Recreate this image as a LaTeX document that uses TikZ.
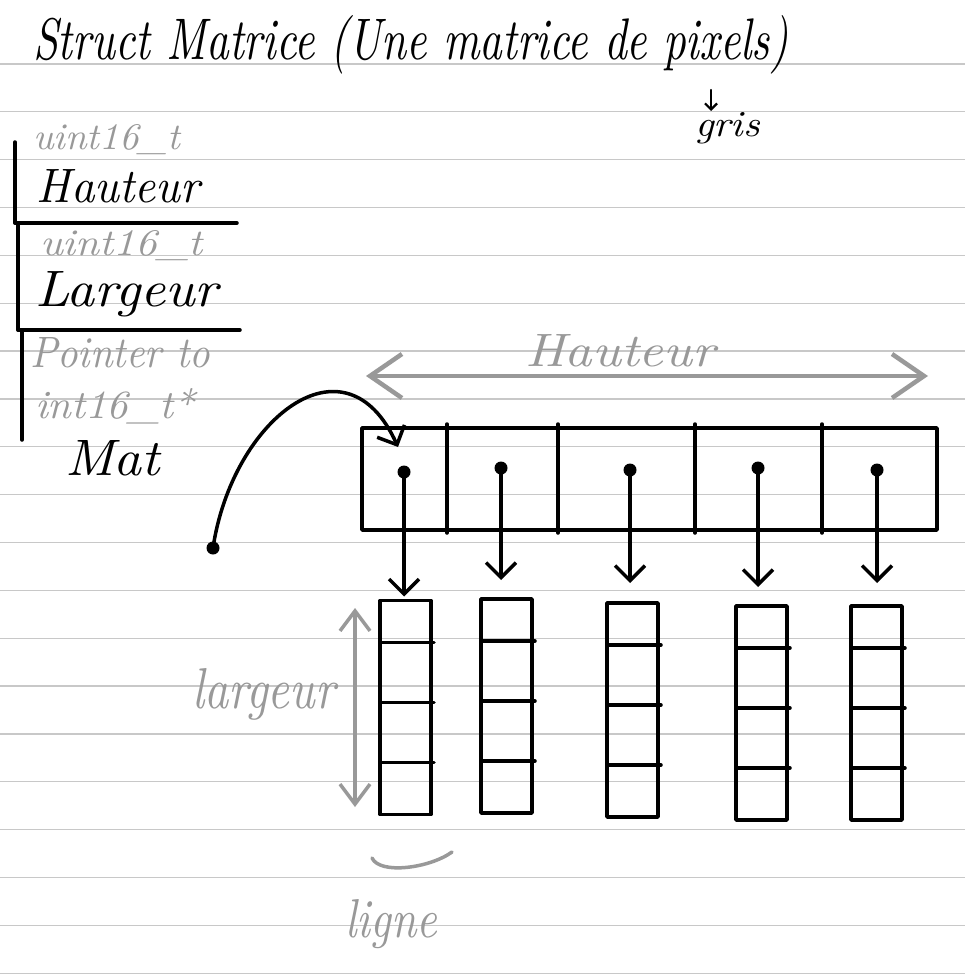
\documentclass[tikz,border=0pt]{standalone}
\usetikzlibrary{arrows.meta,calc}
\definecolor{rulecol}{HTML}{C8C8C8}
\definecolor{pen}{HTML}{999999}
\begin{document}
\begin{tikzpicture}[x=1pt,y=-1pt,
  hand/.style={inner sep=0pt, outer sep=0pt, font=\itshape},
  greytext/.style={hand, text=pen},
  ink/.style={line width=3.5pt, line cap=round, line join=round},
  ptr/.style={ink, -{Straight Barb[length=15pt,width=30pt]}},
  dot/.style={circle, fill, inner sep=0pt, minimum size=13pt},
  colbox/.style={draw, ink, minimum width=51pt, minimum height=214pt, inner sep=0pt, outer sep=0pt},
  dimline/.style={draw=pen, line width=4.5pt, line cap=round, line join=round},
  hdim/.style={dimline, {Straight Barb[length=32pt,width=44pt]}-{Straight Barb[length=32pt,width=44pt]}},
  vdim/.style={dimline, line width=3.5pt, {Straight Barb[length=20pt,width=30pt]}-{Straight Barb[length=20pt,width=30pt]}}
]
\useasboundingbox[fill=white] (0,0) rectangle (965,976);
% ruled paper
\foreach \k in {0,...,19}
  \draw[rulecol, line width=1.3pt] (0,{64+47.85*\k}) -- (965,{64+47.85*\k});

% title
\node[hand, anchor=base west] (title) at (33,60)
  {\resizebox{755pt}{44pt}{Struct Matrice (Une matrice de pixels)}};
\node[hand, anchor=base west] (gris) at (695,137) {\resizebox{65pt}{24pt}{gris}};
\coordinate (grisA) at (711,90);
\coordinate (grisB) at (711,111);
\draw[line width=2.2pt, line cap=round, -{Straight Barb[length=6pt,width=12pt]}] (grisA) -- (grisB);

% struct fields
\draw[ink] (15,142) -- (15,223);
\draw[ink] (15,223) -- (237,223);
\draw[ink] (18,223) -- (18,330);
\draw[ink] (18,330) -- (240,330);
\draw[ink] (22,330) -- (22,440);
\node[greytext, anchor=base west] (t1) at (33,150) {\resizebox{147pt}{25pt}{uint16\_t}};
\node[hand, anchor=base west] (haut) at (37,203) {\resizebox{163pt}{33pt}{Hauteur}};
\node[greytext, anchor=base west] (t2) at (40,255) {\resizebox{163pt}{25pt}{uint16\_t}};
\node[hand, anchor=base west] (larg) at (35,306) {\resizebox{183pt}{35pt}{Largeur}};
\node[greytext, anchor=base west] (t3) at (30,367) {\resizebox{180pt}{30pt}{Pointer to}};
\node[greytext, anchor=base west] (t4) at (35,418) {\resizebox{160pt}{30pt}{int16\_t*}};
\node[hand, anchor=base west] (mat) at (65,475) {\resizebox{95pt}{35pt}{Mat}};

% Hauteur dimension
\coordinate (hL) at (366,376);
\coordinate (hR) at (928,376);
\draw[hdim] (hL) -- (hR);
\node[greytext, anchor=base west] (hlab) at (525,366) {\resizebox{190pt}{32pt}{Hauteur}};

% top array of pointers
\node[draw, ink, minimum width=575pt, minimum height=102pt, inner sep=0pt, outer sep=0pt] (arr) at (649.5,479) {};
\foreach \o in {85,196,333,460}
  \draw[ink] ([xshift=\o pt, yshift=4pt]arr.north west) -- ([xshift=\o pt, yshift=-3pt]arr.south west);

% columns
\foreach \n/\x/\y in {1/405.5/707.5, 2/506.5/706, 3/632.5/710, 4/761.5/713, 5/876.5/713} {
  \node[colbox] (c\n) at (\x,\y) {};
  \foreach \o in {42,102,162}
    \draw[ink] ([yshift=-\o pt]c\n.north west) -- ([yshift=-\o pt, xshift=3pt]c\n.north east);
}

% dots and arrows
\foreach \n/\x/\y/\s in {1/404/472/4, 2/501/468/19, 3/630/470/20, 4/758/468/19, 5/877/470/23} {
  \node[dot] (d\n) at (\x,\y) {};
  \draw[ptr, shorten >=\s pt] (d\n.center) -- (d\n.center |- c\n.north);
}

% pointer from Mat
\node[dot] (src) at (213,548) {};
\coordinate (cellA) at (398,447);
\draw[ptr] (src.center) .. controls (232,420) and (345,330) .. (cellA);

% largeur dimension
\coordinate (lT) at (355,608);
\coordinate (lB) at (355,807);
\draw[vdim] (lT) -- (lB);
\node[greytext, anchor=base west] (llab) at (192,708) {\resizebox{143pt}{40pt}{largeur}};

% ligne
\coordinate (bA) at (372,858);
\coordinate (bB) at (452,852);
\draw[dimline, line width=3.5pt] (bA) .. controls (380,875) and (430,868) .. (bB);
\node[greytext, anchor=base west] (lig) at (345,937) {\resizebox{92pt}{38pt}{ligne}};
\end{tikzpicture}
\end{document}
